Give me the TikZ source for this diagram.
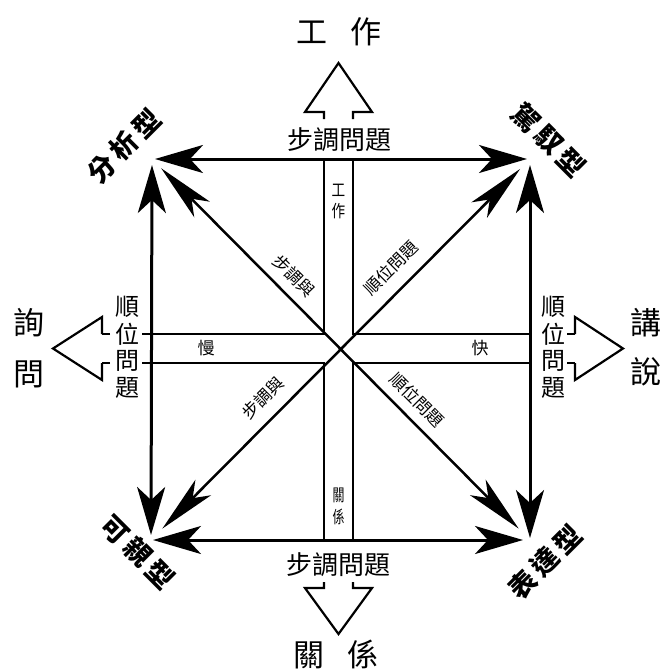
\documentclass[tikz,border=0pt]{standalone}
\usepackage{fontspec}
\newfontfamily\cjk{Noto Sans CJK TC}
\usetikzlibrary{arrows.meta}
\tikzset{
  sqtip/.tip={Stealth[length=48pt,width=28pt,inset=13pt]},
  dgtip/.tip={Stealth[length=58pt,width=22pt,inset=15pt]},
  sqline/.style={line width=3pt, sqtip-sqtip},
  dgline/.style={line width=2.5pt, dgtip-dgtip},
  bandline/.style={line width=2.4pt},
  hollow/.style={line width=2.2pt, line join=miter},
  txt/.style={inner sep=0pt, outer sep=0pt},
  bigtxt/.style={txt, font=\cjk\fontsize{31}{31}\selectfont},
  midtxt/.style={txt, font=\cjk\fontsize{26}{26}\selectfont},
  sidetxt/.style={txt, font=\cjk\fontsize{24}{24}\selectfont},
  smalltxt/.style={txt, font=\cjk\fontsize{17}{17}\selectfont},
  cornertxt/.style={txt, font=\cjk\bfseries\fontsize{27}{27}\selectfont},
}
\begin{document}
\begin{tikzpicture}[x=1pt,y=-1pt]
\useasboundingbox[fill=white] (0,0) rectangle (663,672);

% corners
\coordinate (TL) at (152,159);
\coordinate (TR) at (530,159);
\coordinate (BL) at (151,540);
\coordinate (BR) at (530,540);

% square edges
\draw[sqline, shorten <=3pt, shorten >=3pt] (TL) -- (TR);
\draw[sqline, shorten <=6pt, shorten >=5pt] (TL) -- (BL);
\draw[sqline, shorten <=6pt, shorten >=2pt] (TR) -- (BR);
\draw[sqline, shorten <=2pt, shorten >=7pt] (BL) -- (BR);

% diagonals
\draw[dgline, shorten <=13pt, shorten >=16pt] (TL) -- (BR);
\draw[dgline, shorten <=14pt, shorten >=16pt] (TR) -- (BL);

% central bands
\draw[bandline] (324,159) |- (142,334);
\draw[bandline] (353,159) |- (530,334);
\draw[bandline] (324,540) |- (142,363);
\draw[bandline] (353,540) |- (530,363);
\draw[bandline] (110,334) -- (102,334);
\draw[bandline] (110,363) -- (102,363);
\draw[bandline] (567,334) -- (575,334);
\draw[bandline] (567,363) -- (575,363);

% hollow arrows
\draw[hollow] (324,119) -- (324,112) -- (305,112) -- (338.5,63) -- (372,112) -- (353,112) -- (353,119);
\draw[hollow] (324,582) -- (324,588) -- (305,588) -- (338.5,634) -- (372,588) -- (353,588) -- (353,582);
\draw[hollow] (102,334) -- (102,317) -- (53,348.5) -- (102,380) -- (102,363);
\draw[hollow] (575,334) -- (575,317) -- (623,348.5) -- (575,380) -- (575,363);

% outer labels
\node[bigtxt] (work) at (339,32) {工\hspace{24pt}作};
\node[bigtxt] (rel) at (336,654) {關\hspace{24pt}係};
\node[bigtxt] (ask1) at (29,323) {詢};
\node[bigtxt] (ask2) at (29,374) {問};
\node[bigtxt] (tell1) at (646,323) {講};
\node[bigtxt] (tell2) at (646,372) {說};

% pace labels
\node[midtxt] (paceT) at (339,140) {步調問題};
\node[midtxt] (paceB) at (338,565) {步調問題};

% priority labels (vertical)
\node[sidetxt] (pl1) at (127,307) {順};
\node[sidetxt] (pl2) at (127,334) {位};
\node[sidetxt] (pl3) at (127,361) {問};
\node[sidetxt] (pl4) at (127,388) {題};
\node[sidetxt] (pr1) at (553,307) {順};
\node[sidetxt] (pr2) at (553,334) {位};
\node[sidetxt] (pr3) at (553,361) {問};
\node[sidetxt] (pr4) at (553,388) {題};

% band labels
\node[smalltxt] (bw1) at (338.5,190) {\scalebox{0.8}[1]{工}};
\node[smalltxt] (bw2) at (338.5,211) {\scalebox{0.8}[1]{作}};
\node[smalltxt] (br1) at (338.5,495) {\scalebox{0.7}[1]{關}};
\node[smalltxt] (br2) at (338.5,517) {\scalebox{0.7}[1]{係}};
\node[smalltxt] (slow) at (206,348.5) {慢};
\node[smalltxt] (fast) at (480,348.5) {快};

% diagonal labels
\node[smalltxt, rotate=-45] (dUL) at (294,276) {步調與};
\node[smalltxt, rotate=45] (dUR) at (391,268) {順位問題};
\node[smalltxt, rotate=45] (dLL) at (263,398) {步調與};
\node[smalltxt, rotate=-45] (dLR) at (417,400) {順位問題};

% corner labels
\node[cornertxt, rotate=45] (cUL) at (124,146) {分\hspace{5pt}析\hspace{5pt}型};
\node[cornertxt, rotate=-45] (cUR) at (549,140) {駕\hspace{5pt}馭\hspace{5pt}型};
\node[cornertxt, rotate=-45] (cLL) at (138,552) {可\hspace{5pt}親\hspace{5pt}型};
\node[cornertxt, rotate=45] (cLR) at (545,562) {表\hspace{5pt}達\hspace{5pt}型};
\end{tikzpicture}
\end{document}
